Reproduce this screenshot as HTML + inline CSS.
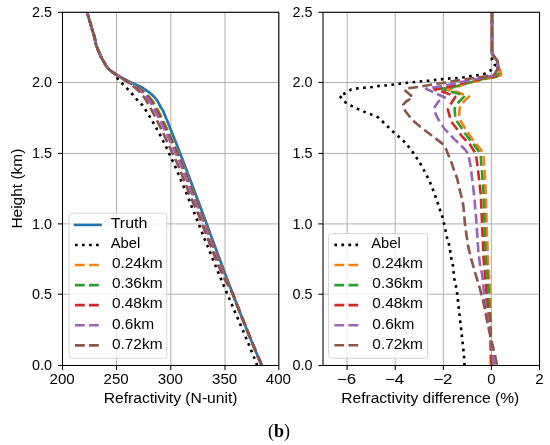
<!DOCTYPE html><html><head><meta charset="utf-8"><style>html,body{margin:0;padding:0;background:#fff;}svg{display:block;will-change:transform;}</style></head><body>
<svg width="550" height="445" viewBox="0 0 550 445" font-family='"Liberation Sans", sans-serif'>
<rect width="550" height="445" fill="#fff"/>
<defs><clipPath id="cl"><rect x="62.5" y="12.3" width="216.3" height="353.2"/></clipPath>
<clipPath id="cr"><rect x="323.0" y="12.3" width="216.5" height="353.2"/></clipPath></defs>
<line x1="62.5" y1="12.3" x2="62.5" y2="365.5" stroke="#b0b0b0" stroke-width="1.00"/>
<line x1="116.5" y1="12.3" x2="116.5" y2="365.5" stroke="#b0b0b0" stroke-width="1.00"/>
<line x1="170.8" y1="12.3" x2="170.8" y2="365.5" stroke="#b0b0b0" stroke-width="1.00"/>
<line x1="225.0" y1="12.3" x2="225.0" y2="365.5" stroke="#b0b0b0" stroke-width="1.00"/>
<line x1="278.8" y1="12.3" x2="278.8" y2="365.5" stroke="#b0b0b0" stroke-width="1.00"/>
<line x1="62.5" y1="365.5" x2="278.8" y2="365.5" stroke="#b0b0b0" stroke-width="1.00"/>
<line x1="62.5" y1="294.2" x2="278.8" y2="294.2" stroke="#b0b0b0" stroke-width="1.00"/>
<line x1="62.5" y1="223.9" x2="278.8" y2="223.9" stroke="#b0b0b0" stroke-width="1.00"/>
<line x1="62.5" y1="153.4" x2="278.8" y2="153.4" stroke="#b0b0b0" stroke-width="1.00"/>
<line x1="62.5" y1="82.5" x2="278.8" y2="82.5" stroke="#b0b0b0" stroke-width="1.00"/>
<line x1="62.5" y1="12.3" x2="278.8" y2="12.3" stroke="#b0b0b0" stroke-width="1.00"/>
<line x1="347.1" y1="12.3" x2="347.1" y2="365.5" stroke="#b0b0b0" stroke-width="1.00"/>
<line x1="395.2" y1="12.3" x2="395.2" y2="365.5" stroke="#b0b0b0" stroke-width="1.00"/>
<line x1="443.4" y1="12.3" x2="443.4" y2="365.5" stroke="#b0b0b0" stroke-width="1.00"/>
<line x1="491.4" y1="12.3" x2="491.4" y2="365.5" stroke="#b0b0b0" stroke-width="1.00"/>
<line x1="539.5" y1="12.3" x2="539.5" y2="365.5" stroke="#b0b0b0" stroke-width="1.00"/>
<line x1="323.0" y1="365.5" x2="539.5" y2="365.5" stroke="#b0b0b0" stroke-width="1.00"/>
<line x1="323.0" y1="294.2" x2="539.5" y2="294.2" stroke="#b0b0b0" stroke-width="1.00"/>
<line x1="323.0" y1="223.9" x2="539.5" y2="223.9" stroke="#b0b0b0" stroke-width="1.00"/>
<line x1="323.0" y1="153.4" x2="539.5" y2="153.4" stroke="#b0b0b0" stroke-width="1.00"/>
<line x1="323.0" y1="82.5" x2="539.5" y2="82.5" stroke="#b0b0b0" stroke-width="1.00"/>
<line x1="323.0" y1="12.3" x2="539.5" y2="12.3" stroke="#b0b0b0" stroke-width="1.00"/>
<polyline points="261.8,365.5 259.9,361.0 257.7,356.0 255.6,351.0 253.6,346.0 251.5,341.0 249.4,336.0 247.4,331.0 245.4,326.0 243.4,321.0 241.4,316.0 239.4,311.0 237.5,306.0 235.6,301.0 233.6,296.0 231.7,291.0 229.8,286.0 227.9,281.0 226.0,276.0 224.1,271.0 222.3,266.0 220.4,261.0 218.5,256.0 216.7,251.0 214.8,246.0 213.0,241.0 211.1,236.0 209.3,231.0 207.5,226.0 205.6,221.0 203.8,216.0 201.9,211.0 200.1,206.0 198.2,201.0 196.3,196.0 194.5,191.0 192.6,186.0 190.7,181.0 188.8,176.0 186.9,171.0 185.0,166.0 183.1,161.0 181.2,156.0 179.2,151.0 177.3,146.0 175.3,141.0 173.3,136.0 171.3,131.0 169.3,126.0 167.3,121.0 165.2,116.0 163.2,111.0 160.9,107.4 159.1,103.9 157.0,100.4 154.6,97.3 152.0,94.6 149.0,92.2 145.5,89.8 142.0,87.3 135.6,84.4 128.9,81.4 124.8,79.3 121.3,77.5 117.8,75.6 116.5,74.8 113.9,73.1 110.4,70.6 107.0,67.4 104.5,63.0 101.4,57.6 98.7,51.5 96.0,44.7 94.5,37.0 91.8,28.2 89.4,20.1 86.7,11.0" fill="none" stroke="#1f77b4" stroke-width="2.65" stroke-linejoin="round" stroke-linecap="butt" clip-path="url(#cl)"/>
<polyline points="257.2,365.5 257.0,365.0 255.1,360.0 253.1,355.0 251.0,350.0 249.0,345.0 246.9,340.0 244.8,335.0 242.7,330.0 240.6,325.0 238.4,320.0 236.3,315.0 234.1,310.0 232.0,305.0 229.9,300.0 227.7,295.0 225.6,290.0 223.5,285.0 221.4,280.0 219.3,275.0 217.2,270.0 215.2,265.0 213.1,260.0 211.1,255.0 209.1,250.0 207.1,245.0 205.0,240.0 203.1,235.0 201.1,230.0 199.1,225.0 197.1,220.0 195.1,215.0 193.1,210.0 191.1,205.0 189.1,200.0 187.1,195.0 185.1,190.0 183.0,185.0 180.9,180.0 178.8,175.0 176.7,170.0 174.5,165.0 172.2,160.0 169.9,155.0 167.6,150.0 165.2,145.0 162.6,140.0 160.1,135.0 157.4,130.0 154.6,125.0 151.7,120.0 148.7,115.0 145.6,110.0 142.3,105.0 136.8,99.5 132.2,94.0 127.5,88.9 122.5,83.8 117.6,78.6 116.0,75.8 114.6,73.8 113.9,73.1 110.4,70.6 107.0,67.4 104.5,63.0 101.4,57.6 98.7,51.5 96.0,44.7 94.5,37.0 91.8,28.2 89.4,20.1 86.7,11.0" fill="none" stroke="#000000" stroke-width="2.65" stroke-linejoin="round" stroke-linecap="butt" stroke-dasharray="2.665,4.444" clip-path="url(#cl)"/>
<path d="M86.70,11.00 L86.83,11.42 L86.98,11.96 L87.11,12.38 L87.27,12.92 L87.41,13.39 L87.55,13.87 L87.69,14.34 L87.84,14.83 L87.98,15.31 L88.12,15.79 L88.26,16.27 L88.38,16.65 M89.63,20.87 L89.77,21.35 L89.91,21.83 L90.05,22.31 L90.20,22.79 L90.34,23.27 L90.48,23.75 L90.62,24.23 L90.76,24.71 L90.91,25.19 L91.05,25.66 L91.19,26.14 L91.33,26.62 L91.48,27.10 L91.62,27.58 L91.76,28.06 L91.91,28.54 L92.05,29.02 L92.20,29.50 L92.35,29.98 L92.43,30.26 M93.72,34.47 L93.87,34.94 L94.01,35.42 L94.14,35.91 L94.27,36.39 L94.40,36.87 L94.52,37.36 L94.63,37.84 L94.74,38.33 L94.85,38.81 L94.95,39.30 L95.04,39.79 L95.14,40.28 L95.23,40.77 L95.33,41.26 L95.42,41.75 L95.52,42.24 L95.62,42.73 L95.73,43.22 L95.85,43.70 L95.93,44.00 M97.40,48.23 L97.59,48.70 L97.77,49.16 L97.96,49.63 L98.14,50.09 L98.33,50.55 L98.52,51.01 L98.72,51.48 L98.91,51.94 L99.11,52.40 L99.31,52.86 L99.50,53.31 L99.71,53.77 L99.91,54.23 L100.11,54.69 L100.31,55.15 L100.52,55.60 L100.73,56.06 L100.94,56.51 L101.16,56.96 L101.29,57.23 M103.40,61.09 L103.65,61.52 L103.90,61.95 L104.15,62.39 L104.40,62.82 L104.65,63.26 L104.90,63.70 L105.14,64.13 L105.39,64.56 L105.63,65.00 L105.88,65.43 L106.14,65.86 L106.41,66.27 L106.70,66.68 L106.99,67.08 L107.30,67.47 L107.61,67.84 L107.94,68.22 L108.28,68.58 L108.63,68.93 L108.84,69.13 M112.24,71.91 L112.65,72.20 L113.06,72.49 L113.47,72.77 L113.88,73.06 L114.30,73.34 L114.71,73.62 L115.12,73.89 L115.54,74.17 L115.96,74.44 L116.38,74.71 L116.80,74.97 L117.22,75.24 L117.64,75.50 L118.07,75.75 L118.49,76.01 L118.92,76.26 L119.35,76.52 L119.78,76.77 L120.22,77.02 L120.47,77.17 M124.29,79.35 L124.72,79.60 L125.16,79.85 L125.59,80.10 L126.02,80.35 L126.45,80.60 L126.88,80.84 L127.31,81.09 L127.73,81.34 L128.16,81.58 L128.59,81.83 L129.01,82.07 L129.43,82.31 L129.85,82.56 L130.27,82.80 L130.70,83.04 L131.12,83.28 L131.55,83.52 L131.97,83.77 L132.39,84.01 L132.72,84.20 M136.42,86.38 L136.84,86.63 L137.25,86.88 L137.66,87.14 L138.06,87.39 L138.46,87.65 L138.90,87.92 L139.35,88.22 L139.80,88.52 L140.24,88.82 L140.68,89.13 L141.11,89.45 L141.54,89.77 L141.97,90.10 L142.40,90.44 L142.81,90.77 L143.20,91.10 L143.56,91.42 L143.92,91.74 L144.27,92.05 L144.49,92.25 M147.72,95.26 L148.13,95.66 L148.53,96.07 L148.93,96.48 L149.31,96.90 L149.67,97.30 L150.05,97.73 L150.44,98.19 L150.82,98.66 L151.20,99.13 L151.57,99.60 L151.90,100.04 L152.25,100.53 L152.60,101.03 L152.95,101.53 L153.29,102.04 L153.61,102.54 L153.91,103.01 L154.21,103.50 L154.52,104.02 L154.64,104.22 M156.90,108.33 L157.11,108.74 L157.33,109.13 L157.55,109.53 L157.77,109.93 L157.99,110.32 L158.25,110.78 L158.52,111.26 L158.79,111.75 L159.06,112.27 L159.34,112.79 L159.61,113.32 L159.88,113.84 L160.14,114.37 L160.39,114.90 L160.64,115.44 L160.87,115.92 L161.08,116.38 L161.28,116.83 L161.49,117.29 L161.58,117.47 M163.43,121.35 L163.65,121.80 L163.87,122.25 L164.09,122.70 L164.30,123.15 L164.52,123.60 L164.73,124.05 L164.95,124.51 L165.16,124.96 L165.38,125.41 L165.59,125.87 L165.81,126.33 L166.03,126.79 L166.24,127.25 L166.46,127.71 L166.67,128.16 L166.89,128.62 L167.10,129.08 L167.31,129.54 L167.53,130.00 L167.61,130.18 M169.47,134.17 L169.68,134.63 L169.89,135.08 L170.09,135.54 L170.30,135.99 L170.51,136.45 L170.72,136.90 L170.92,137.36 L171.13,137.81 L171.34,138.27 L171.54,138.72 L171.75,139.18 L171.96,139.63 L172.16,140.09 L172.37,140.55 L172.57,141.00 L172.78,141.46 L172.98,141.92 L173.19,142.37 L173.39,142.83 L173.48,143.01 M175.23,146.94 L175.44,147.40 L175.64,147.85 L175.84,148.31 L176.04,148.77 L176.25,149.22 L176.45,149.68 L176.65,150.14 L176.86,150.59 L177.06,151.05 L177.26,151.51 L177.47,151.97 L177.67,152.42 L177.87,152.88 L178.07,153.34 L178.27,153.80 L178.47,154.25 L178.68,154.71 L178.88,155.17 L179.08,155.63 L179.16,155.81 M180.88,159.86 L181.07,160.32 L181.26,160.79 L181.44,161.25 L181.63,161.71 L181.81,162.18 L182.00,162.64 L182.18,163.11 L182.37,163.57 L182.55,164.04 L182.73,164.50 L182.91,164.97 L183.09,165.44 L183.27,165.90 L183.45,166.37 L183.63,166.83 L183.81,167.30 L183.99,167.77 L184.17,168.23 L184.35,168.70 L184.43,168.89 M185.97,172.90 L186.15,173.36 L186.33,173.83 L186.51,174.30 L186.69,174.77 L186.87,175.23 L187.05,175.70 L187.23,176.16 L187.41,176.63 L187.59,177.10 L187.77,177.57 L187.95,178.03 L188.13,178.50 L188.30,178.97 L188.48,179.43 L188.66,179.90 L188.84,180.37 L189.01,180.84 L189.19,181.30 L189.37,181.77 L189.44,181.96 M191.01,186.10 L191.19,186.58 L191.37,187.05 L191.55,187.52 L191.73,188.00 L191.91,188.47 L192.09,188.95 L192.26,189.41 L192.44,189.88 L192.62,190.35 L192.79,190.82 L192.97,191.29 L193.15,191.75 L193.32,192.22 L193.50,192.69 L193.68,193.16 L193.86,193.62 L194.04,194.09 L194.22,194.56 L194.40,195.02 L194.47,195.21 M196.03,199.22 L196.21,199.68 L196.39,200.15 L196.57,200.61 L196.75,201.08 L196.94,201.54 L197.12,202.01 L197.30,202.47 L197.48,202.93 L197.65,203.39 L197.83,203.85 L198.01,204.31 L198.19,204.77 L198.37,205.23 L198.55,205.68 L198.73,206.14 L198.90,206.60 L199.08,207.06 L199.27,207.53 L199.45,208.00 L199.52,208.18 M201.11,212.28 L201.29,212.75 L201.47,213.22 L201.65,213.68 L201.83,214.15 L202.00,214.62 L202.18,215.09 L202.36,215.55 L202.53,216.02 L202.71,216.49 L202.88,216.96 L203.06,217.42 L203.24,217.89 L203.41,218.36 L203.59,218.83 L203.76,219.30 L203.94,219.77 L204.11,220.23 L204.29,220.70 L204.46,221.17 L204.53,221.36 M206.04,225.39 L206.22,225.85 L206.39,226.32 L206.57,226.79 L206.74,227.26 L206.92,227.72 L207.09,228.19 L207.27,228.66 L207.44,229.13 L207.62,229.60 L207.79,230.07 L207.97,230.53 L208.14,231.00 L208.32,231.47 L208.50,231.94 L208.67,232.41 L208.85,232.88 L209.02,233.34 L209.20,233.81 L209.37,234.28 L209.44,234.47 M210.98,238.59 L211.16,239.06 L211.33,239.52 L211.51,239.99 L211.69,240.46 L211.86,240.93 L212.04,241.40 L212.21,241.87 L212.39,242.33 L212.56,242.80 L212.74,243.27 L212.91,243.74 L213.09,244.21 L213.26,244.68 L213.44,245.14 L213.62,245.61 L213.79,246.08 L213.97,246.55 L214.14,247.02 L214.32,247.49 L214.39,247.67 M215.90,251.70 L216.08,252.16 L216.26,252.63 L216.43,253.10 L216.61,253.57 L216.79,254.03 L216.97,254.50 L217.14,254.97 L217.32,255.43 L217.50,255.90 L217.68,256.37 L217.86,256.84 L218.03,257.30 L218.21,257.77 L218.39,258.24 L218.57,258.71 L218.75,259.17 L218.92,259.64 L219.10,260.11 L219.28,260.58 L219.35,260.76 M220.92,264.87 L221.10,265.34 L221.28,265.81 L221.46,266.27 L221.64,266.74 L221.82,267.20 L222.00,267.67 L222.18,268.13 L222.37,268.60 L222.55,269.06 L222.74,269.53 L222.92,269.99 L223.11,270.46 L223.29,270.92 L223.48,271.39 L223.66,271.85 L223.84,272.31 L224.03,272.78 L224.22,273.24 L224.40,273.71 L224.47,273.89 M226.07,277.88 L226.26,278.34 L226.44,278.80 L226.63,279.25 L226.82,279.71 L227.01,280.16 L227.20,280.62 L227.39,281.07 L227.58,281.52 L227.77,281.97 L227.96,282.43 L228.16,282.88 L228.35,283.34 L228.55,283.80 L228.74,284.26 L228.94,284.72 L229.14,285.17 L229.33,285.63 L229.52,286.08 L229.72,286.53 L229.79,286.71 M231.48,290.71 L231.67,291.18 L231.86,291.64 L232.05,292.10 L232.23,292.56 L232.42,293.03 L232.61,293.49 L232.80,293.95 L232.98,294.41 L233.17,294.88 L233.35,295.34 L233.54,295.80 L233.72,296.26 L233.90,296.73 L234.08,297.19 L234.27,297.66 L234.45,298.12 L234.63,298.59 L234.81,299.05 L234.99,299.52 L235.06,299.71 M236.61,303.71 L236.79,304.18 L236.97,304.65 L237.15,305.11 L237.33,305.58 L237.51,306.05 L237.70,306.51 L237.88,306.98 L238.06,307.44 L238.24,307.91 L238.42,308.37 L238.60,308.84 L238.79,309.31 L238.97,309.77 L239.15,310.24 L239.33,310.70 L239.52,311.17 L239.70,311.63 L239.88,312.10 L240.06,312.57 L240.14,312.75 M241.75,316.85 L241.93,317.31 L242.12,317.78 L242.30,318.24 L242.49,318.70 L242.67,319.17 L242.85,319.63 L243.04,320.10 L243.22,320.56 L243.41,321.03 L243.59,321.49 L243.78,321.96 L243.96,322.42 L244.15,322.89 L244.33,323.35 L244.52,323.81 L244.70,324.28 L244.89,324.74 L245.08,325.21 L245.26,325.67 L245.34,325.86 M246.94,329.85 L247.13,330.31 L247.32,330.77 L247.50,331.24 L247.69,331.70 L247.88,332.16 L248.07,332.63 L248.25,333.09 L248.44,333.55 L248.63,334.02 L248.82,334.48 L249.01,334.94 L249.20,335.41 L249.38,335.87 L249.57,336.33 L249.76,336.80 L249.95,337.26 L250.14,337.72 L250.33,338.18 L250.52,338.65 L250.60,338.83 M252.27,342.90 L252.46,343.36 L252.65,343.82 L252.84,344.29 L253.03,344.75 L253.23,345.21 L253.42,345.67 L253.61,346.13 L253.80,346.60 L253.99,347.06 L254.19,347.52 L254.38,347.98 L254.57,348.44 L254.76,348.90 L254.96,349.36 L255.15,349.83 L255.34,350.29 L255.53,350.75 L255.73,351.21 L255.92,351.67 L256.00,351.86 M257.67,355.82 L257.87,356.28 L258.06,356.74 L258.26,357.20 L258.45,357.66 L258.65,358.12 L258.84,358.58 L259.04,359.04 L259.24,359.50 L259.43,359.96 L259.63,360.42 L259.82,360.88 L260.02,361.34 L260.22,361.80 L260.42,362.26 L260.61,362.72 L260.81,363.17 L261.00,363.62 L261.21,364.11 L261.40,364.54 L261.48,364.72" fill="none" stroke="#ff7f0e" stroke-width="2.65" stroke-linejoin="round" stroke-linecap="butt" clip-path="url(#cl)"/>
<path d="M86.70,11.00 L86.83,11.43 L86.98,11.96 L87.11,12.39 L87.27,12.92 L87.41,13.39 L87.55,13.87 L87.69,14.34 L87.84,14.83 L87.98,15.31 L88.12,15.79 L88.26,16.27 L88.29,16.36 M89.54,20.58 L89.68,21.06 L89.83,21.54 L89.97,22.02 L90.11,22.50 L90.25,22.98 L90.40,23.46 L90.54,23.94 L90.68,24.42 L90.82,24.90 L90.96,25.38 L91.11,25.86 L91.25,26.34 L91.39,26.82 L91.53,27.29 L91.68,27.77 L91.82,28.25 L91.97,28.73 L92.11,29.21 L92.26,29.69 L92.35,29.98 M93.63,34.18 L93.78,34.66 L93.92,35.14 L94.06,35.62 L94.20,36.10 L94.32,36.58 L94.45,37.07 L94.57,37.55 L94.68,38.04 L94.79,38.52 L94.89,39.01 L94.99,39.50 L95.08,39.99 L95.18,40.47 L95.27,40.97 L95.37,41.45 L95.46,41.95 L95.56,42.44 L95.67,42.93 L95.78,43.42 L95.85,43.71 M97.29,47.95 L97.48,48.42 L97.66,48.89 L97.85,49.35 L98.03,49.81 L98.22,50.27 L98.41,50.74 L98.60,51.20 L98.80,51.66 L98.99,52.12 L99.19,52.58 L99.38,53.04 L99.58,53.50 L99.79,53.95 L99.99,54.41 L100.19,54.87 L100.40,55.33 L100.60,55.79 L100.81,56.24 L101.02,56.69 L101.16,56.96 M103.25,60.83 L103.50,61.26 L103.75,61.70 L104.00,62.13 L104.25,62.56 L104.50,63.00 L104.75,63.44 L104.99,63.87 L105.24,64.30 L105.49,64.74 L105.73,65.17 L105.99,65.60 L106.25,66.02 L106.53,66.44 L106.81,66.84 L107.11,67.24 L107.42,67.62 L107.74,67.99 L108.07,68.36 L108.42,68.72 L108.63,68.93 M112.00,71.74 L112.40,72.03 L112.81,72.32 L113.23,72.60 L113.64,72.89 L114.05,73.17 L114.47,73.45 L114.88,73.73 L115.29,74.01 L115.71,74.28 L116.12,74.55 L116.55,74.82 L116.97,75.08 L117.39,75.34 L117.81,75.60 L118.24,75.86 L118.66,76.12 L119.09,76.37 L119.52,76.63 L119.95,76.88 L120.21,77.03 M124.01,79.24 L124.44,79.49 L124.88,79.74 L125.31,79.99 L125.74,80.24 L126.17,80.49 L126.60,80.75 L127.02,81.00 L127.45,81.25 L127.87,81.50 L128.30,81.75 L128.72,82.00 L129.14,82.25 L129.56,82.49 L129.98,82.74 L130.40,82.99 L130.82,83.24 L131.24,83.49 L131.66,83.73 L132.08,83.98 L132.42,84.18 M136.09,86.41 L136.50,86.67 L136.91,86.93 L137.32,87.19 L137.72,87.46 L138.12,87.72 L138.52,87.99 L138.96,88.28 L139.40,88.58 L139.84,88.89 L140.27,89.20 L140.70,89.52 L141.13,89.84 L141.55,90.17 L141.96,90.50 L142.38,90.84 L142.78,91.19 L143.15,91.51 L143.50,91.84 L143.86,92.16 L144.07,92.36 M147.23,95.39 L147.61,95.78 L148.00,96.18 L148.38,96.59 L148.77,97.01 L149.13,97.42 L149.48,97.83 L149.85,98.28 L150.23,98.74 L150.60,99.20 L150.96,99.67 L151.30,100.13 L151.62,100.57 L151.97,101.07 L152.31,101.56 L152.64,102.06 L152.97,102.56 L153.27,103.04 L153.56,103.51 L153.86,104.01 L153.98,104.21 M156.26,108.36 L156.48,108.77 L156.70,109.17 L156.92,109.57 L157.14,109.98 L157.37,110.38 L157.60,110.79 L157.86,111.26 L158.12,111.74 L158.39,112.24 L158.67,112.75 L158.93,113.26 L159.20,113.78 L159.46,114.30 L159.72,114.82 L159.97,115.34 L160.22,115.87 L160.42,116.32 L160.63,116.78 L160.84,117.23 L160.93,117.41 M162.85,121.37 L163.08,121.82 L163.30,122.27 L163.52,122.72 L163.74,123.17 L163.96,123.62 L164.18,124.07 L164.40,124.52 L164.62,124.97 L164.83,125.42 L165.05,125.88 L165.27,126.33 L165.49,126.79 L165.71,127.24 L165.93,127.70 L166.15,128.16 L166.36,128.61 L166.58,129.07 L166.80,129.53 L167.02,129.98 L167.10,130.16 M168.94,134.06 L169.16,134.51 L169.37,134.96 L169.58,135.41 L169.79,135.87 L170.00,136.32 L170.21,136.78 L170.42,137.23 L170.63,137.69 L170.84,138.14 L171.05,138.59 L171.26,139.05 L171.47,139.50 L171.68,139.96 L171.89,140.41 L172.10,140.87 L172.31,141.32 L172.51,141.78 L172.72,142.23 L172.93,142.69 L173.01,142.87 M174.84,146.88 L175.04,147.34 L175.25,147.79 L175.45,148.25 L175.66,148.70 L175.87,149.16 L176.07,149.61 L176.28,150.07 L176.48,150.53 L176.69,150.98 L176.90,151.44 L177.10,151.90 L177.31,152.35 L177.51,152.81 L177.72,153.26 L177.92,153.72 L178.12,154.18 L178.33,154.63 L178.53,155.09 L178.74,155.55 L178.82,155.73 M180.56,159.77 L180.75,160.23 L180.95,160.69 L181.13,161.15 L181.32,161.62 L181.51,162.08 L181.69,162.55 L181.88,163.01 L182.06,163.48 L182.24,163.94 L182.43,164.41 L182.61,164.87 L182.79,165.34 L182.97,165.80 L183.15,166.27 L183.33,166.74 L183.51,167.20 L183.69,167.67 L183.87,168.14 L184.05,168.60 L184.13,168.79 M185.68,172.80 L185.86,173.26 L186.04,173.73 L186.22,174.20 L186.40,174.67 L186.58,175.13 L186.76,175.60 L186.94,176.06 L187.12,176.53 L187.29,177.00 L187.47,177.47 L187.65,177.93 L187.83,178.40 L188.01,178.86 L188.19,179.33 L188.37,179.80 L188.55,180.27 L188.72,180.73 L188.90,181.20 L189.08,181.67 L189.15,181.85 M190.72,185.99 L190.90,186.47 L191.08,186.94 L191.26,187.42 L191.44,187.89 L191.62,188.36 L191.80,188.84 L191.97,189.31 L192.15,189.78 L192.33,190.24 L192.50,190.71 L192.68,191.18 L192.86,191.65 L193.03,192.11 L193.21,192.58 L193.39,193.05 L193.57,193.52 L193.75,193.98 L193.93,194.45 L194.11,194.91 L194.18,195.10 M195.79,199.20 L195.97,199.66 L196.15,200.13 L196.33,200.59 L196.52,201.06 L196.70,201.52 L196.88,201.99 L197.06,202.45 L197.24,202.91 L197.42,203.37 L197.60,203.83 L197.78,204.29 L197.96,204.75 L198.14,205.20 L198.32,205.66 L198.50,206.12 L198.68,206.58 L198.86,207.04 L199.05,207.51 L199.23,207.97 L199.30,208.16 M200.87,212.16 L201.05,212.63 L201.23,213.09 L201.41,213.56 L201.59,214.03 L201.76,214.49 L201.94,214.96 L202.12,215.43 L202.30,215.90 L202.47,216.36 L202.65,216.83 L202.82,217.30 L203.00,217.77 L203.17,218.24 L203.35,218.71 L203.53,219.17 L203.70,219.64 L203.88,220.11 L204.05,220.58 L204.23,221.04 L204.30,221.23 M205.85,225.35 L206.02,225.82 L206.20,226.29 L206.37,226.76 L206.55,227.22 L206.72,227.69 L206.90,228.16 L207.08,228.63 L207.25,229.10 L207.43,229.57 L207.60,230.03 L207.78,230.50 L207.95,230.97 L208.13,231.44 L208.30,231.90 L208.48,232.37 L208.66,232.84 L208.83,233.31 L209.01,233.78 L209.18,234.25 L209.25,234.43 M210.76,238.46 L210.94,238.93 L211.11,239.39 L211.29,239.86 L211.47,240.33 L211.64,240.80 L211.82,241.27 L211.99,241.74 L212.17,242.20 L212.34,242.67 L212.52,243.14 L212.70,243.61 L212.87,244.08 L213.05,244.54 L213.22,245.01 L213.40,245.48 L213.57,245.95 L213.75,246.42 L213.93,246.88 L214.10,247.35 L214.17,247.54 M215.73,251.66 L215.90,252.12 L216.08,252.59 L216.26,253.06 L216.44,253.53 L216.61,253.99 L216.79,254.46 L216.97,254.93 L217.15,255.39 L217.33,255.86 L217.51,256.33 L217.68,256.79 L217.86,257.26 L218.04,257.73 L218.22,258.20 L218.40,258.66 L218.58,259.13 L218.76,259.60 L218.93,260.06 L219.11,260.53 L219.18,260.72 M220.76,264.83 L220.94,265.29 L221.12,265.76 L221.30,266.23 L221.48,266.69 L221.66,267.16 L221.84,267.62 L222.03,268.09 L222.21,268.55 L222.40,269.02 L222.58,269.48 L222.77,269.94 L222.95,270.41 L223.14,270.87 L223.33,271.33 L223.51,271.80 L223.70,272.26 L223.89,272.73 L224.07,273.19 L224.26,273.65 L224.33,273.84 M225.94,277.82 L226.13,278.28 L226.32,278.74 L226.51,279.19 L226.70,279.65 L226.89,280.10 L227.08,280.55 L227.27,281.01 L227.47,281.46 L227.66,281.91 L227.86,282.36 L228.06,282.81 L228.25,283.27 L228.45,283.73 L228.65,284.19 L228.85,284.64 L229.05,285.10 L229.24,285.55 L229.44,286.01 L229.64,286.46 L229.72,286.64 M231.43,290.63 L231.62,291.09 L231.81,291.55 L232.00,292.01 L232.19,292.48 L232.38,292.94 L232.57,293.40 L232.75,293.86 L232.94,294.32 L233.13,294.78 L233.31,295.25 L233.50,295.71 L233.68,296.17 L233.87,296.63 L234.05,297.10 L234.23,297.56 L234.41,298.03 L234.59,298.49 L234.77,298.96 L234.95,299.43 L235.02,299.61 M236.61,303.72 L236.79,304.18 L236.97,304.65 L237.15,305.11 L237.33,305.58 L237.52,306.05 L237.70,306.51 L237.88,306.98 L238.06,307.44 L238.24,307.91 L238.42,308.38 L238.61,308.84 L238.79,309.31 L238.97,309.77 L239.15,310.24 L239.33,310.70 L239.52,311.17 L239.70,311.64 L239.88,312.10 L240.06,312.57 L240.14,312.75 M241.71,316.75 L241.90,317.22 L242.08,317.68 L242.27,318.15 L242.45,318.61 L242.63,319.08 L242.82,319.54 L243.00,320.01 L243.19,320.47 L243.37,320.94 L243.56,321.40 L243.74,321.87 L243.93,322.33 L244.11,322.79 L244.30,323.26 L244.48,323.72 L244.67,324.19 L244.85,324.65 L245.04,325.12 L245.23,325.58 L245.30,325.77 M246.94,329.85 L247.13,330.31 L247.32,330.78 L247.50,331.24 L247.69,331.70 L247.88,332.16 L248.07,332.63 L248.25,333.09 L248.44,333.56 L248.63,334.02 L248.82,334.48 L249.01,334.94 L249.20,335.41 L249.38,335.87 L249.57,336.33 L249.76,336.80 L249.95,337.26 L250.14,337.72 L250.33,338.19 L250.52,338.65 L250.60,338.83 M252.27,342.90 L252.46,343.36 L252.65,343.83 L252.84,344.29 L253.03,344.75 L253.23,345.21 L253.42,345.67 L253.61,346.14 L253.80,346.60 L253.99,347.06 L254.19,347.52 L254.38,347.98 L254.57,348.44 L254.76,348.91 L254.96,349.37 L255.15,349.83 L255.34,350.29 L255.54,350.75 L255.73,351.21 L255.92,351.67 L256.00,351.86 M257.67,355.82 L257.87,356.28 L258.06,356.74 L258.26,357.20 L258.45,357.66 L258.65,358.12 L258.84,358.58 L259.04,359.04 L259.24,359.50 L259.43,359.96 L259.63,360.42 L259.83,360.88 L260.02,361.34 L260.22,361.80 L260.42,362.26 L260.61,362.72 L260.81,363.18 L261.00,363.62 L261.21,364.11 L261.40,364.54 L261.48,364.72" fill="none" stroke="#2ca02c" stroke-width="2.65" stroke-linejoin="round" stroke-linecap="butt" clip-path="url(#cl)"/>
<path d="M86.70,11.00 L86.83,11.44 L86.98,11.96 L87.11,12.40 L87.27,12.92 L87.41,13.39 L87.55,13.87 L87.69,14.35 L87.84,14.83 L87.98,15.31 L88.12,15.79 L88.21,16.08 M89.46,20.29 L89.60,20.77 L89.74,21.25 L89.88,21.73 L90.03,22.21 L90.17,22.69 L90.31,23.17 L90.45,23.65 L90.59,24.13 L90.74,24.61 L90.88,25.09 L91.02,25.57 L91.16,26.05 L91.31,26.53 L91.45,27.01 L91.59,27.49 L91.74,27.97 L91.88,28.45 L92.03,28.92 L92.17,29.40 L92.26,29.69 M93.55,33.90 L93.69,34.37 L93.84,34.85 L93.98,35.33 L94.12,35.81 L94.25,36.29 L94.37,36.78 L94.50,37.26 L94.61,37.75 L94.72,38.23 L94.83,38.72 L94.93,39.21 L95.03,39.70 L95.12,40.19 L95.22,40.68 L95.31,41.16 L95.41,41.66 L95.50,42.15 L95.60,42.64 L95.71,43.13 L95.78,43.42 M97.18,47.68 L97.37,48.14 L97.55,48.61 L97.74,49.07 L97.92,49.54 L98.11,50.00 L98.30,50.46 L98.49,50.92 L98.68,51.39 L98.87,51.85 L99.07,52.31 L99.27,52.77 L99.47,53.23 L99.67,53.68 L99.87,54.14 L100.07,54.60 L100.27,55.06 L100.48,55.51 L100.68,55.97 L100.90,56.42 L101.02,56.69 M103.10,60.57 L103.35,61.00 L103.60,61.43 L103.85,61.87 L104.10,62.31 L104.35,62.74 L104.60,63.17 L104.85,63.61 L105.09,64.04 L105.34,64.48 L105.59,64.91 L105.83,65.34 L106.09,65.77 L106.36,66.19 L106.64,66.60 L106.93,67.00 L107.23,67.39 L107.55,67.77 L107.87,68.14 L108.21,68.51 L108.42,68.72 M111.76,71.56 L112.16,71.85 L112.57,72.14 L112.98,72.43 L113.39,72.72 L113.80,73.00 L114.22,73.28 L114.63,73.56 L115.04,73.84 L115.46,74.12 L115.87,74.39 L116.29,74.66 L116.72,74.93 L117.14,75.19 L117.56,75.45 L117.98,75.72 L118.41,75.98 L118.83,76.23 L119.26,76.49 L119.69,76.75 L119.94,76.90 M123.73,79.14 L124.16,79.40 L124.59,79.65 L125.02,79.91 L125.44,80.16 L125.87,80.42 L126.30,80.68 L126.72,80.94 L127.14,81.19 L127.57,81.45 L127.99,81.71 L128.41,81.97 L128.83,82.22 L129.24,82.48 L129.66,82.74 L130.08,82.99 L130.49,83.25 L130.91,83.51 L131.33,83.77 L131.74,84.03 L132.07,84.24 M135.71,86.56 L136.11,86.83 L136.52,87.10 L136.92,87.38 L137.32,87.65 L137.71,87.93 L138.11,88.21 L138.51,88.50 L138.94,88.80 L139.36,89.12 L139.79,89.43 L140.20,89.75 L140.61,90.08 L141.02,90.41 L141.43,90.75 L141.83,91.09 L142.22,91.44 L142.61,91.79 L142.96,92.12 L143.31,92.45 L143.51,92.66 M146.57,95.76 L146.92,96.13 L147.29,96.54 L147.66,96.95 L148.02,97.36 L148.38,97.78 L148.71,98.19 L149.05,98.61 L149.41,99.06 L149.76,99.51 L150.10,99.97 L150.44,100.43 L150.75,100.88 L151.07,101.34 L151.39,101.82 L151.71,102.31 L152.03,102.80 L152.33,103.28 L152.61,103.75 L152.89,104.22 L153.01,104.42 M155.29,108.55 L155.51,108.98 L155.73,109.39 L155.96,109.80 L156.18,110.21 L156.41,110.62 L156.63,111.03 L156.88,111.47 L157.13,111.93 L157.39,112.41 L157.66,112.90 L157.92,113.40 L158.18,113.90 L158.44,114.41 L158.69,114.91 L158.94,115.42 L159.19,115.93 L159.42,116.42 L159.63,116.87 L159.85,117.32 L159.93,117.50 M161.89,121.44 L162.12,121.89 L162.35,122.34 L162.57,122.78 L162.80,123.23 L163.02,123.68 L163.25,124.13 L163.47,124.57 L163.69,125.02 L163.92,125.47 L164.14,125.92 L164.36,126.38 L164.59,126.83 L164.81,127.28 L165.03,127.74 L165.25,128.19 L165.48,128.64 L165.70,129.10 L165.92,129.55 L166.14,130.01 L166.23,130.19 M168.16,134.15 L168.37,134.60 L168.59,135.06 L168.81,135.51 L169.02,135.96 L169.24,136.41 L169.45,136.86 L169.67,137.31 L169.88,137.77 L170.09,138.22 L170.31,138.67 L170.52,139.13 L170.73,139.58 L170.95,140.03 L171.16,140.49 L171.37,140.94 L171.58,141.39 L171.80,141.85 L172.01,142.30 L172.22,142.75 L172.31,142.93 M174.16,146.93 L174.37,147.38 L174.58,147.84 L174.79,148.29 L175.00,148.75 L175.21,149.20 L175.42,149.65 L175.63,150.11 L175.84,150.56 L176.05,151.02 L176.26,151.47 L176.47,151.93 L176.68,152.38 L176.89,152.84 L177.10,153.29 L177.31,153.74 L177.52,154.20 L177.73,154.65 L177.93,155.11 L178.14,155.56 L178.22,155.75 M179.97,159.68 L180.16,160.14 L180.36,160.60 L180.55,161.06 L180.74,161.52 L180.93,161.99 L181.11,162.45 L181.30,162.91 L181.49,163.38 L181.67,163.84 L181.85,164.30 L182.04,164.77 L182.22,165.24 L182.40,165.70 L182.58,166.17 L182.76,166.63 L182.94,167.10 L183.13,167.57 L183.31,168.03 L183.49,168.50 L183.56,168.69 M185.15,172.79 L185.33,173.25 L185.51,173.72 L185.69,174.18 L185.88,174.65 L186.06,175.12 L186.24,175.58 L186.42,176.05 L186.60,176.52 L186.78,176.98 L186.96,177.45 L187.14,177.92 L187.32,178.38 L187.50,178.85 L187.67,179.32 L187.85,179.78 L188.03,180.25 L188.21,180.72 L188.39,181.18 L188.57,181.65 L188.64,181.84 M190.21,185.97 L190.39,186.44 L190.57,186.92 L190.75,187.39 L190.93,187.86 L191.11,188.34 L191.29,188.81 L191.47,189.28 L191.64,189.75 L191.82,190.22 L192.00,190.68 L192.17,191.15 L192.35,191.62 L192.53,192.09 L192.71,192.55 L192.89,193.02 L193.07,193.49 L193.24,193.95 L193.43,194.42 L193.61,194.88 L193.68,195.07 M195.30,199.16 L195.49,199.62 L195.67,200.09 L195.86,200.55 L196.04,201.02 L196.23,201.48 L196.41,201.94 L196.60,202.41 L196.78,202.87 L196.96,203.33 L197.14,203.79 L197.33,204.25 L197.51,204.70 L197.69,205.16 L197.87,205.62 L198.06,206.08 L198.24,206.54 L198.42,207.00 L198.61,207.46 L198.79,207.92 L198.86,208.11 M200.48,212.20 L200.67,212.67 L200.85,213.13 L201.03,213.60 L201.21,214.06 L201.39,214.53 L201.57,214.99 L201.75,215.46 L201.93,215.93 L202.10,216.40 L202.28,216.86 L202.46,217.33 L202.63,217.80 L202.81,218.27 L202.99,218.74 L203.16,219.20 L203.34,219.67 L203.52,220.14 L203.69,220.61 L203.87,221.08 L203.94,221.26 M205.45,225.29 L205.63,225.75 L205.81,226.22 L205.98,226.69 L206.16,227.16 L206.34,227.63 L206.51,228.09 L206.69,228.56 L206.87,229.03 L207.04,229.50 L207.22,229.96 L207.39,230.43 L207.57,230.90 L207.75,231.37 L207.92,231.84 L208.10,232.30 L208.28,232.77 L208.45,233.24 L208.63,233.71 L208.80,234.18 L208.88,234.36 M210.43,238.48 L210.60,238.95 L210.78,239.42 L210.95,239.88 L211.13,240.35 L211.31,240.82 L211.48,241.29 L211.66,241.75 L211.84,242.22 L212.01,242.69 L212.19,243.16 L212.37,243.63 L212.54,244.09 L212.72,244.56 L212.90,245.03 L213.07,245.50 L213.25,245.97 L213.42,246.43 L213.60,246.90 L213.78,247.37 L213.85,247.56 M215.41,251.67 L215.59,252.14 L215.76,252.60 L215.94,253.07 L216.12,253.54 L216.30,254.01 L216.48,254.47 L216.66,254.94 L216.84,255.40 L217.02,255.87 L217.20,256.34 L217.38,256.81 L217.56,257.27 L217.74,257.74 L217.92,258.20 L218.10,258.67 L218.28,259.14 L218.46,259.60 L218.63,260.07 L218.81,260.54 L218.89,260.72 M220.47,264.83 L220.65,265.29 L220.83,265.76 L221.01,266.23 L221.20,266.69 L221.38,267.16 L221.56,267.62 L221.75,268.08 L221.94,268.55 L222.12,269.01 L222.31,269.47 L222.50,269.94 L222.69,270.40 L222.88,270.86 L223.07,271.32 L223.26,271.79 L223.45,272.25 L223.64,272.71 L223.83,273.17 L224.01,273.64 L224.09,273.82 M225.72,277.80 L225.91,278.26 L226.11,278.71 L226.30,279.17 L226.49,279.62 L226.69,280.07 L226.89,280.52 L227.08,280.97 L227.28,281.42 L227.48,281.87 L227.69,282.32 L227.89,282.77 L228.09,283.23 L228.30,283.68 L228.50,284.14 L228.70,284.59 L228.91,285.05 L229.11,285.50 L229.31,285.95 L229.52,286.40 L229.60,286.58 M231.35,290.55 L231.55,291.01 L231.74,291.47 L231.94,291.93 L232.13,292.39 L232.32,292.85 L232.51,293.31 L232.70,293.78 L232.89,294.23 L233.08,294.70 L233.27,295.16 L233.46,295.62 L233.64,296.08 L233.83,296.54 L234.01,297.01 L234.19,297.47 L234.37,297.94 L234.55,298.40 L234.73,298.87 L234.91,299.33 L234.99,299.52 M236.57,303.63 L236.76,304.09 L236.94,304.56 L237.12,305.02 L237.30,305.49 L237.48,305.95 L237.66,306.42 L237.84,306.89 L238.02,307.35 L238.21,307.82 L238.39,308.28 L238.57,308.75 L238.75,309.22 L238.93,309.68 L239.12,310.15 L239.30,310.61 L239.48,311.08 L239.66,311.54 L239.85,312.01 L240.03,312.47 L240.10,312.66 M241.71,316.75 L241.90,317.22 L242.08,317.68 L242.27,318.15 L242.45,318.61 L242.63,319.08 L242.82,319.54 L243.00,320.01 L243.19,320.47 L243.37,320.94 L243.56,321.40 L243.74,321.87 L243.93,322.33 L244.11,322.80 L244.30,323.26 L244.48,323.72 L244.67,324.19 L244.85,324.65 L245.04,325.12 L245.23,325.58 L245.30,325.77 M246.94,329.85 L247.13,330.31 L247.32,330.78 L247.50,331.24 L247.69,331.70 L247.88,332.17 L248.07,332.63 L248.25,333.09 L248.44,333.56 L248.63,334.02 L248.82,334.48 L249.01,334.95 L249.20,335.41 L249.39,335.87 L249.57,336.34 L249.76,336.80 L249.95,337.26 L250.14,337.72 L250.33,338.19 L250.52,338.65 L250.60,338.83 M252.23,342.81 L252.42,343.27 L252.61,343.74 L252.81,344.20 L253.00,344.66 L253.19,345.12 L253.38,345.58 L253.57,346.04 L253.76,346.51 L253.96,346.97 L254.15,347.43 L254.34,347.89 L254.53,348.35 L254.73,348.81 L254.92,349.28 L255.11,349.74 L255.30,350.20 L255.50,350.66 L255.69,351.12 L255.88,351.58 L255.96,351.77 M257.67,355.82 L257.87,356.28 L258.06,356.74 L258.26,357.20 L258.45,357.66 L258.65,358.12 L258.84,358.58 L259.04,359.04 L259.24,359.50 L259.43,359.96 L259.63,360.42 L259.83,360.88 L260.02,361.34 L260.22,361.80 L260.42,362.26 L260.61,362.72 L260.81,363.18 L261.00,363.62 L261.21,364.11 L261.40,364.54 L261.48,364.73" fill="none" stroke="#d62728" stroke-width="2.65" stroke-linejoin="round" stroke-linecap="butt" clip-path="url(#cl)"/>
<path d="M86.70,11.00 L86.83,11.45 L86.98,11.96 L87.12,12.41 L87.27,12.92 L87.41,13.39 L87.55,13.87 L87.69,14.35 L87.84,14.83 L87.98,15.31 L88.04,15.50 M89.29,19.72 L89.43,20.20 L89.57,20.68 L89.71,21.16 L89.86,21.64 L90.00,22.12 L90.14,22.60 L90.28,23.08 L90.42,23.56 L90.57,24.04 L90.71,24.52 L90.85,25.00 L90.99,25.48 L91.13,25.95 L91.28,26.43 L91.42,26.91 L91.56,27.39 L91.71,27.87 L91.85,28.35 L92.00,28.83 L92.08,29.12 M93.37,33.32 L93.52,33.80 L93.66,34.28 L93.81,34.75 L93.95,35.23 L94.09,35.72 L94.22,36.20 L94.35,36.68 L94.47,37.17 L94.59,37.65 L94.70,38.14 L94.81,38.62 L94.91,39.11 L95.01,39.60 L95.10,40.09 L95.20,40.58 L95.29,41.07 L95.39,41.56 L95.48,42.05 L95.58,42.54 L95.65,42.84 M96.96,47.12 L97.15,47.59 L97.33,48.05 L97.51,48.51 L97.70,48.98 L97.88,49.44 L98.07,49.91 L98.26,50.37 L98.45,50.83 L98.64,51.30 L98.83,51.76 L99.03,52.22 L99.23,52.68 L99.43,53.14 L99.63,53.59 L99.83,54.05 L100.03,54.51 L100.23,54.97 L100.44,55.42 L100.64,55.88 L100.77,56.15 M102.80,60.05 L103.05,60.48 L103.30,60.91 L103.55,61.35 L103.80,61.78 L104.05,62.22 L104.30,62.65 L104.55,63.09 L104.79,63.52 L105.04,63.96 L105.29,64.39 L105.54,64.82 L105.78,65.26 L106.04,65.69 L106.30,66.11 L106.58,66.52 L106.87,66.92 L107.17,67.31 L107.48,67.69 L107.81,68.07 L108.01,68.29 M111.28,71.20 L111.68,71.50 L112.08,71.80 L112.49,72.09 L112.90,72.37 L113.31,72.66 L113.72,72.94 L114.13,73.23 L114.55,73.51 L114.96,73.79 L115.38,74.06 L115.79,74.33 L116.21,74.61 L116.63,74.88 L117.05,75.14 L117.47,75.41 L117.90,75.67 L118.32,75.94 L118.74,76.20 L119.17,76.46 L119.42,76.62 M123.18,78.90 L123.61,79.16 L124.04,79.42 L124.46,79.68 L124.89,79.94 L125.31,80.21 L125.73,80.47 L126.16,80.73 L126.58,81.00 L127.00,81.27 L127.42,81.53 L127.83,81.80 L128.25,82.07 L128.67,82.33 L129.08,82.60 L129.49,82.87 L129.90,83.14 L130.31,83.41 L130.73,83.68 L131.14,83.95 L131.47,84.17 M135.05,86.61 L135.45,86.90 L135.85,87.18 L136.24,87.47 L136.64,87.76 L137.03,88.06 L137.42,88.35 L137.81,88.65 L138.19,88.95 L138.60,89.27 L139.01,89.59 L139.41,89.91 L139.81,90.24 L140.20,90.58 L140.59,90.92 L140.98,91.26 L141.36,91.61 L141.74,91.96 L142.11,92.32 L142.45,92.67 L142.66,92.88 M145.61,96.07 L145.94,96.45 L146.26,96.83 L146.60,97.23 L146.95,97.64 L147.28,98.06 L147.61,98.47 L147.93,98.89 L148.24,99.31 L148.57,99.75 L148.89,100.19 L149.21,100.64 L149.52,101.10 L149.82,101.54 L150.11,101.99 L150.41,102.46 L150.70,102.93 L151.00,103.40 L151.29,103.88 L151.55,104.33 L151.71,104.61 M153.91,108.60 L154.15,109.04 L154.38,109.48 L154.61,109.90 L154.83,110.32 L155.06,110.74 L155.29,111.16 L155.52,111.58 L155.75,112.01 L156.00,112.47 L156.26,112.93 L156.51,113.41 L156.77,113.89 L157.02,114.37 L157.27,114.86 L157.51,115.34 L157.76,115.83 L158.00,116.32 L158.23,116.80 L158.45,117.25 L158.58,117.52 M160.54,121.46 L160.77,121.91 L160.99,122.36 L161.22,122.80 L161.45,123.25 L161.67,123.70 L161.90,124.14 L162.12,124.59 L162.34,125.04 L162.57,125.49 L162.79,125.94 L163.01,126.39 L163.23,126.84 L163.45,127.29 L163.68,127.74 L163.90,128.20 L164.12,128.65 L164.34,129.10 L164.56,129.55 L164.78,130.01 L164.87,130.19 M166.80,134.15 L167.02,134.60 L167.23,135.05 L167.45,135.51 L167.67,135.96 L167.88,136.41 L168.10,136.86 L168.31,137.31 L168.52,137.77 L168.74,138.22 L168.95,138.67 L169.16,139.12 L169.38,139.58 L169.59,140.03 L169.80,140.48 L170.02,140.94 L170.23,141.39 L170.44,141.84 L170.65,142.30 L170.86,142.75 L170.95,142.93 M172.81,146.92 L173.02,147.38 L173.23,147.83 L173.44,148.28 L173.65,148.74 L173.86,149.19 L174.08,149.65 L174.29,150.10 L174.50,150.55 L174.71,151.01 L174.92,151.46 L175.13,151.91 L175.34,152.37 L175.56,152.82 L175.77,153.27 L175.98,153.73 L176.19,154.18 L176.40,154.63 L176.61,155.09 L176.82,155.54 L176.90,155.72 M178.72,159.73 L178.93,160.19 L179.13,160.65 L179.32,161.10 L179.52,161.56 L179.72,162.02 L179.91,162.48 L180.10,162.95 L180.29,163.41 L180.48,163.87 L180.67,164.33 L180.85,164.80 L181.04,165.26 L181.22,165.73 L181.40,166.19 L181.58,166.66 L181.77,167.13 L181.95,167.59 L182.13,168.06 L182.31,168.52 L182.39,168.71 M183.99,172.81 L184.17,173.27 L184.36,173.74 L184.54,174.20 L184.72,174.67 L184.90,175.13 L185.08,175.60 L185.27,176.06 L185.45,176.53 L185.63,177.00 L185.81,177.46 L185.99,177.93 L186.17,178.39 L186.35,178.86 L186.53,179.33 L186.71,179.79 L186.89,180.26 L187.07,180.73 L187.25,181.19 L187.43,181.66 L187.50,181.85 M189.08,185.97 L189.26,186.44 L189.44,186.91 L189.62,187.38 L189.80,187.85 L189.98,188.32 L190.16,188.79 L190.34,189.27 L190.52,189.74 L190.69,190.20 L190.87,190.67 L191.05,191.14 L191.23,191.60 L191.41,192.07 L191.59,192.54 L191.76,193.00 L191.95,193.47 L192.13,193.94 L192.31,194.40 L192.49,194.87 L192.57,195.05 M194.23,199.12 L194.42,199.59 L194.61,200.05 L194.80,200.51 L194.99,200.97 L195.18,201.44 L195.37,201.90 L195.56,202.36 L195.75,202.82 L195.93,203.28 L196.12,203.74 L196.31,204.20 L196.50,204.66 L196.69,205.12 L196.87,205.57 L197.06,206.03 L197.25,206.49 L197.44,206.95 L197.63,207.41 L197.82,207.87 L197.89,208.05 M199.56,212.12 L199.75,212.59 L199.93,213.05 L200.12,213.51 L200.30,213.98 L200.49,214.44 L200.67,214.91 L200.85,215.37 L201.03,215.84 L201.21,216.31 L201.39,216.77 L201.57,217.24 L201.75,217.71 L201.92,218.18 L202.10,218.64 L202.28,219.11 L202.46,219.58 L202.64,220.05 L202.81,220.51 L202.99,220.98 L203.06,221.17 M204.63,225.28 L204.81,225.75 L204.98,226.21 L205.16,226.68 L205.34,227.15 L205.52,227.61 L205.69,228.08 L205.87,228.55 L206.05,229.02 L206.23,229.48 L206.41,229.95 L206.58,230.42 L206.76,230.89 L206.94,231.35 L207.12,231.82 L207.29,232.29 L207.47,232.76 L207.65,233.22 L207.83,233.69 L208.01,234.16 L208.08,234.34 M209.64,238.46 L209.82,238.92 L210.00,239.39 L210.17,239.86 L210.35,240.33 L210.53,240.79 L210.71,241.26 L210.88,241.73 L211.06,242.20 L211.24,242.66 L211.42,243.13 L211.60,243.60 L211.77,244.06 L211.95,244.53 L212.13,245.00 L212.31,245.47 L212.48,245.93 L212.66,246.40 L212.84,246.87 L213.02,247.34 L213.09,247.52 M214.66,251.63 L214.84,252.10 L215.02,252.57 L215.20,253.03 L215.38,253.50 L215.57,253.96 L215.75,254.43 L215.93,254.89 L216.11,255.36 L216.29,255.82 L216.48,256.29 L216.66,256.76 L216.84,257.22 L217.02,257.69 L217.20,258.15 L217.39,258.62 L217.57,259.08 L217.75,259.55 L217.93,260.02 L218.11,260.48 L218.22,260.76 M219.79,264.76 L219.97,265.23 L220.16,265.69 L220.34,266.16 L220.53,266.62 L220.72,267.09 L220.90,267.55 L221.09,268.01 L221.28,268.47 L221.48,268.94 L221.67,269.39 L221.87,269.86 L222.06,270.31 L222.26,270.78 L222.45,271.23 L222.65,271.69 L222.84,272.15 L223.04,272.61 L223.23,273.07 L223.43,273.53 L223.55,273.81 M225.23,277.76 L225.43,278.22 L225.63,278.67 L225.83,279.13 L226.04,279.58 L226.24,280.03 L226.45,280.48 L226.66,280.92 L226.87,281.37 L227.09,281.82 L227.30,282.26 L227.52,282.71 L227.73,283.15 L227.95,283.60 L228.16,284.05 L228.38,284.50 L228.60,284.95 L228.81,285.40 L229.03,285.84 L229.25,286.29 L229.37,286.55 M231.23,290.49 L231.44,290.95 L231.64,291.41 L231.84,291.86 L232.04,292.32 L232.24,292.78 L232.44,293.24 L232.63,293.70 L232.83,294.15 L233.03,294.61 L233.22,295.07 L233.41,295.53 L233.60,295.99 L233.79,296.46 L233.97,296.92 L234.16,297.38 L234.34,297.85 L234.52,298.31 L234.70,298.78 L234.88,299.25 L234.95,299.43 M236.54,303.54 L236.72,304.00 L236.90,304.47 L237.08,304.93 L237.26,305.40 L237.45,305.87 L237.63,306.33 L237.81,306.80 L237.99,307.26 L238.17,307.73 L238.35,308.20 L238.53,308.66 L238.72,309.13 L238.90,309.59 L239.08,310.06 L239.26,310.52 L239.45,310.99 L239.63,311.46 L239.81,311.92 L239.99,312.39 L240.07,312.57 M241.68,316.67 L241.86,317.13 L242.05,317.60 L242.23,318.06 L242.42,318.53 L242.60,318.99 L242.78,319.46 L242.97,319.92 L243.15,320.38 L243.34,320.85 L243.52,321.31 L243.71,321.78 L243.89,322.24 L244.08,322.71 L244.26,323.17 L244.45,323.64 L244.63,324.10 L244.82,324.56 L245.00,325.03 L245.19,325.49 L245.26,325.68 M246.91,329.76 L247.09,330.22 L247.28,330.69 L247.47,331.15 L247.66,331.62 L247.84,332.08 L248.03,332.54 L248.22,333.01 L248.41,333.47 L248.60,333.93 L248.78,334.40 L248.97,334.86 L249.16,335.32 L249.35,335.78 L249.54,336.25 L249.73,336.71 L249.92,337.17 L250.11,337.64 L250.29,338.10 L250.48,338.56 L250.56,338.75 M252.23,342.82 L252.43,343.28 L252.62,343.74 L252.81,344.20 L253.00,344.66 L253.19,345.13 L253.38,345.59 L253.57,346.05 L253.77,346.51 L253.96,346.97 L254.15,347.43 L254.34,347.90 L254.53,348.36 L254.73,348.82 L254.92,349.28 L255.11,349.74 L255.31,350.20 L255.50,350.66 L255.69,351.12 L255.89,351.59 L255.96,351.77 M257.67,355.82 L257.87,356.28 L258.06,356.74 L258.26,357.21 L258.45,357.67 L258.65,358.13 L258.85,358.59 L259.04,359.05 L259.24,359.51 L259.43,359.97 L259.63,360.42 L259.83,360.88 L260.02,361.34 L260.22,361.80 L260.42,362.26 L260.62,362.72 L260.81,363.18 L261.01,363.63 L261.21,364.11 L261.40,364.55 L261.48,364.73" fill="none" stroke="#9467bd" stroke-width="2.65" stroke-linejoin="round" stroke-linecap="butt" clip-path="url(#cl)"/>
<polyline points="261.8,365.5 259.9,361.0 257.7,356.0 255.6,351.0 253.6,346.0 251.5,341.0 249.4,336.0 247.4,331.0 245.4,326.0 243.4,321.0 241.4,316.0 239.4,311.0 237.5,306.0 235.6,301.0 233.6,296.0 230.8,290.0 225.1,280.0 219.5,268.0 213.0,252.0 206.0,234.0 198.6,215.0 190.0,195.5 184.0,180.0 177.6,164.0 171.0,150.0 165.0,137.0 159.5,125.5 155.0,116.5 151.0,109.0 148.5,104.3 146.0,100.0 143.0,95.8 140.0,92.3 136.0,88.5 132.0,85.3 128.0,82.3 124.0,79.6 120.1,77.1 118.2,75.9 116.5,74.8 113.9,73.1 110.4,70.6 107.0,67.4 104.5,63.0 101.4,57.6 98.7,51.5 96.0,44.7 94.5,37.0 91.8,28.2 89.4,20.1 86.7,11.0" fill="none" stroke="#8c564b" stroke-width="2.65" stroke-linejoin="round" stroke-linecap="butt" stroke-dasharray="9.91,4.32" stroke-dashoffset="-0.75" clip-path="url(#cl)"/>
<polyline points="464.5,365.5 464.0,355.6 461.8,335.3 459.5,315.0 457.0,292.1 455.8,285.4 454.3,278.7 452.9,265.2 451.3,258.0 449.1,244.9 446.9,237.1 445.3,229.2 443.9,223.1 442.4,216.9 440.1,210.1 437.6,202.6 435.3,196.1 432.9,189.5 430.2,182.8 427.1,176.3 423.9,170.2 420.5,163.9 416.7,158.1 412.7,152.0 408.4,146.5 403.7,141.1 398.5,136.4 393.1,131.7 388.2,127.0 382.8,121.8 377.6,117.1 371.2,114.4 364.6,111.9 357.6,108.9 351.6,105.9 345.7,102.6 339.5,95.9 345.5,93.1 351.3,89.4 357.3,88.4 365.5,87.6 372.5,87.0 379.5,85.9 386.5,85.3 393.7,84.5 400.5,83.6 407.7,82.7 414.7,82.0 421.7,81.3 428.8,80.7 435.9,79.9 442.7,79.1 449.8,78.5 456.0,78.3 464.0,77.3 470.9,76.0 478.1,75.1 484.8,73.7 491.1,70.1 495.2,65.6 492.0,60.0 492.0,11.0" fill="none" stroke="#000000" stroke-width="2.65" stroke-linejoin="round" stroke-linecap="butt" stroke-dasharray="2.666,4.447" clip-path="url(#cr)"/>
<polyline points="490.6,365.5 490.6,360.0 490.7,347.0 490.8,333.0 490.8,318.0 490.5,305.0 490.0,290.0 489.0,275.0 488.0,260.0 486.8,230.5 485.9,194.4 485.1,179.8 484.8,171.4 484.2,165.8 483.7,156.8 482.1,151.6 477.1,144.9 473.1,140.4 468.7,133.7 465.3,128.6 460.8,121.3 459.1,115.7 459.7,107.8 462.5,102.9 469.0,96.6 465.2,95.2 456.6,91.8 451.7,91.4 447.0,89.6 452.0,88.3 458.0,86.5 466.0,83.8 480.0,80.1 486.0,78.8 498.0,77.0 501.3,74.6 497.4,61.0 492.0,53.5 492.0,11.0" fill="none" stroke="#ff7f0e" stroke-width="2.65" stroke-linejoin="round" stroke-linecap="butt" stroke-dasharray="9.91,4.32" stroke-dashoffset="-0.75" clip-path="url(#cr)"/>
<polyline points="491.4,365.5 491.2,360.0 491.0,347.0 490.8,333.0 490.3,318.0 489.3,305.0 488.6,290.0 487.5,275.0 486.0,260.0 484.8,230.5 483.7,194.4 482.5,179.8 482.0,171.4 481.4,165.8 480.8,156.8 478.8,151.6 474.3,144.9 470.3,140.4 465.3,133.7 461.9,128.6 457.4,121.9 455.2,116.8 454.6,108.9 457.1,103.8 464.2,96.6 463.4,95.2 454.4,92.5 449.9,91.6 441.5,88.6 445.0,88.2 452.0,87.4 466.0,83.5 480.0,79.7 486.0,78.3 497.0,76.6 499.5,72.0 497.4,61.0 492.0,53.5 492.0,11.0" fill="none" stroke="#2ca02c" stroke-width="2.65" stroke-linejoin="round" stroke-linecap="butt" stroke-dasharray="9.91,4.32" stroke-dashoffset="-0.75" clip-path="url(#cr)"/>
<polyline points="491.9,365.5 491.6,360.0 491.0,347.0 490.5,333.0 489.3,318.0 487.5,305.0 486.3,290.0 485.0,275.0 483.6,258.8 482.4,230.5 480.8,194.4 479.2,180.4 477.5,165.8 476.3,157.4 474.8,152.2 470.3,144.9 466.4,141.0 460.8,134.8 458.0,130.3 452.4,123.0 450.1,117.9 447.9,109.5 450.3,104.7 455.3,97.0 451.5,95.0 443.6,92.0 434.5,89.4 440.0,88.6 450.0,86.7 466.0,82.2 480.0,79.2 486.0,77.8 496.0,76.0 498.3,70.5 497.4,61.0 492.0,53.5 492.0,11.0" fill="none" stroke="#d62728" stroke-width="2.65" stroke-linejoin="round" stroke-linecap="butt" stroke-dasharray="9.91,4.32" stroke-dashoffset="-0.75" clip-path="url(#cr)"/>
<polyline points="493.9,365.5 493.4,360.0 492.0,347.0 490.0,333.0 487.7,318.0 485.5,305.0 483.7,290.0 482.3,275.0 480.3,266.9 478.3,250.7 476.3,220.3 474.1,195.0 472.4,181.0 470.7,166.9 469.5,160.0 467.9,153.4 465.0,149.5 460.0,144.5 454.3,139.1 448.9,133.7 444.2,128.3 439.5,121.6 435.4,113.5 434.8,106.7 438.9,101.0 445.0,97.5 433.5,92.3 426.0,88.8 434.5,87.3 443.0,86.0 451.5,84.2 466.0,81.2 480.0,78.3 486.0,77.0 495.0,75.5 497.4,69.5 497.4,61.0 492.0,53.5 492.0,11.0" fill="none" stroke="#9467bd" stroke-width="2.65" stroke-linejoin="round" stroke-linecap="butt" stroke-dasharray="9.91,4.32" stroke-dashoffset="-0.75" clip-path="url(#cr)"/>
<polyline points="497.0,365.5 495.0,355.0 492.0,343.0 489.0,330.0 486.5,318.0 484.7,308.0 483.0,300.0 480.5,291.0 478.0,282.0 475.3,273.4 471.2,258.8 468.2,246.6 465.2,226.4 463.3,205.3 461.2,195.8 459.2,187.8 457.2,178.5 454.5,171.6 451.8,163.5 449.1,156.7 446.2,149.4 443.5,144.5 438.1,140.4 429.4,133.7 420.6,127.0 412.5,120.2 405.1,110.8 403.3,104.7 406.0,101.5 413.0,97.3 404.4,89.8 408.0,88.3 417.0,87.1 428.0,85.3 436.0,83.8 445.0,82.6 452.0,81.3 466.0,79.2 480.0,77.2 486.0,76.2 494.0,75.0 497.4,69.5 497.4,61.0 492.0,53.5 492.0,11.0" fill="none" stroke="#8c564b" stroke-width="2.65" stroke-linejoin="round" stroke-linecap="butt" stroke-dasharray="9.91,4.32" stroke-dashoffset="-0.75" clip-path="url(#cr)"/>
<rect x="62.50" y="12.30" width="216.30" height="353.20" fill="none" stroke="#000" stroke-width="1.05"/>
<line x1="62.5" y1="365.5" x2="62.5" y2="370.1" stroke="#000" stroke-width="1.05"/>
<line x1="116.5" y1="365.5" x2="116.5" y2="370.1" stroke="#000" stroke-width="1.05"/>
<line x1="170.8" y1="365.5" x2="170.8" y2="370.1" stroke="#000" stroke-width="1.05"/>
<line x1="225.0" y1="365.5" x2="225.0" y2="370.1" stroke="#000" stroke-width="1.05"/>
<line x1="278.8" y1="365.5" x2="278.8" y2="370.1" stroke="#000" stroke-width="1.05"/>
<line x1="57.9" y1="365.5" x2="62.5" y2="365.5" stroke="#000" stroke-width="1.05"/>
<line x1="57.9" y1="294.2" x2="62.5" y2="294.2" stroke="#000" stroke-width="1.05"/>
<line x1="57.9" y1="223.9" x2="62.5" y2="223.9" stroke="#000" stroke-width="1.05"/>
<line x1="57.9" y1="153.4" x2="62.5" y2="153.4" stroke="#000" stroke-width="1.05"/>
<line x1="57.9" y1="82.5" x2="62.5" y2="82.5" stroke="#000" stroke-width="1.05"/>
<line x1="57.9" y1="12.3" x2="62.5" y2="12.3" stroke="#000" stroke-width="1.05"/>
<rect x="323.00" y="12.30" width="216.50" height="353.20" fill="none" stroke="#000" stroke-width="1.05"/>
<line x1="347.1" y1="365.5" x2="347.1" y2="370.1" stroke="#000" stroke-width="1.05"/>
<line x1="395.2" y1="365.5" x2="395.2" y2="370.1" stroke="#000" stroke-width="1.05"/>
<line x1="443.4" y1="365.5" x2="443.4" y2="370.1" stroke="#000" stroke-width="1.05"/>
<line x1="491.4" y1="365.5" x2="491.4" y2="370.1" stroke="#000" stroke-width="1.05"/>
<line x1="539.5" y1="365.5" x2="539.5" y2="370.1" stroke="#000" stroke-width="1.05"/>
<line x1="318.4" y1="365.5" x2="323.0" y2="365.5" stroke="#000" stroke-width="1.05"/>
<line x1="318.4" y1="294.2" x2="323.0" y2="294.2" stroke="#000" stroke-width="1.05"/>
<line x1="318.4" y1="223.9" x2="323.0" y2="223.9" stroke="#000" stroke-width="1.05"/>
<line x1="318.4" y1="153.4" x2="323.0" y2="153.4" stroke="#000" stroke-width="1.05"/>
<line x1="318.4" y1="82.5" x2="323.0" y2="82.5" stroke="#000" stroke-width="1.05"/>
<line x1="318.4" y1="12.3" x2="323.0" y2="12.3" stroke="#000" stroke-width="1.05"/>
<text x="52.0" y="370.4" font-size="14.00" text-anchor="end" textLength="20.0" lengthAdjust="spacingAndGlyphs">0.0</text>
<text x="52.0" y="299.1" font-size="14.00" text-anchor="end" textLength="20.0" lengthAdjust="spacingAndGlyphs">0.5</text>
<text x="52.0" y="228.8" font-size="14.00" text-anchor="end" textLength="20.0" lengthAdjust="spacingAndGlyphs">1.0</text>
<text x="52.0" y="158.3" font-size="14.00" text-anchor="end" textLength="20.0" lengthAdjust="spacingAndGlyphs">1.5</text>
<text x="52.0" y="87.4" font-size="14.00" text-anchor="end" textLength="20.0" lengthAdjust="spacingAndGlyphs">2.0</text>
<text x="52.0" y="17.2" font-size="14.00" text-anchor="end" textLength="20.0" lengthAdjust="spacingAndGlyphs">2.5</text>
<text x="312.5" y="370.4" font-size="14.00" text-anchor="end" textLength="20.0" lengthAdjust="spacingAndGlyphs">0.0</text>
<text x="312.5" y="299.1" font-size="14.00" text-anchor="end" textLength="20.0" lengthAdjust="spacingAndGlyphs">0.5</text>
<text x="312.5" y="228.8" font-size="14.00" text-anchor="end" textLength="20.0" lengthAdjust="spacingAndGlyphs">1.0</text>
<text x="312.5" y="158.3" font-size="14.00" text-anchor="end" textLength="20.0" lengthAdjust="spacingAndGlyphs">1.5</text>
<text x="312.5" y="87.4" font-size="14.00" text-anchor="end" textLength="20.0" lengthAdjust="spacingAndGlyphs">2.0</text>
<text x="312.5" y="17.2" font-size="14.00" text-anchor="end" textLength="20.0" lengthAdjust="spacingAndGlyphs">2.5</text>
<text x="62.1" y="383.6" font-size="14.00" text-anchor="middle" textLength="25.2" lengthAdjust="spacingAndGlyphs">200</text>
<text x="116.1" y="383.6" font-size="14.00" text-anchor="middle" textLength="25.2" lengthAdjust="spacingAndGlyphs">250</text>
<text x="170.4" y="383.6" font-size="14.00" text-anchor="middle" textLength="25.2" lengthAdjust="spacingAndGlyphs">300</text>
<text x="224.6" y="383.6" font-size="14.00" text-anchor="middle" textLength="25.2" lengthAdjust="spacingAndGlyphs">350</text>
<text x="278.4" y="383.6" font-size="14.00" text-anchor="middle" textLength="25.2" lengthAdjust="spacingAndGlyphs">400</text>
<text x="346.5" y="383.6" font-size="14.00" text-anchor="middle" textLength="19.2" lengthAdjust="spacingAndGlyphs">−6</text>
<text x="394.6" y="383.6" font-size="14.00" text-anchor="middle" textLength="19.2" lengthAdjust="spacingAndGlyphs">−4</text>
<text x="442.8" y="383.6" font-size="14.00" text-anchor="middle" textLength="19.2" lengthAdjust="spacingAndGlyphs">−2</text>
<text x="491.4" y="383.6" font-size="14.00" text-anchor="middle" textLength="8.4" lengthAdjust="spacingAndGlyphs">0</text>
<text x="539.5" y="383.6" font-size="14.00" text-anchor="middle" textLength="8.4" lengthAdjust="spacingAndGlyphs">2</text>
<text x="170.6" y="402.9" font-size="14.00" text-anchor="middle" textLength="133.9" lengthAdjust="spacingAndGlyphs">Refractivity (N-unit)</text>
<text x="430.2" y="402.9" font-size="14.00" text-anchor="middle" textLength="177.9" lengthAdjust="spacingAndGlyphs">Refractivity difference (%)</text>
<text x="0" y="0" font-size="14.00" text-anchor="middle" textLength="80" lengthAdjust="spacingAndGlyphs" transform="translate(21.8,188.6) rotate(-90)">Height (km)</text>
<rect x="69.1" y="213.2" width="97.7" height="145.1" rx="3" ry="3" fill="#fff" fill-opacity="0.8" stroke="#cccccc" stroke-opacity="0.8" stroke-width="1"/>
<line x1="75.0" y1="224.9" x2="100.5" y2="224.9" stroke="#1f77b4" stroke-width="2.65" stroke-linecap="square"/>
<text x="110.7" y="228.2" font-size="14.00" text-anchor="start" textLength="36.7" lengthAdjust="spacingAndGlyphs">Truth</text>
<line x1="75.0" y1="245.0" x2="100.5" y2="245.0" stroke="#000000" stroke-width="2.65" stroke-dasharray="2.65,4.37"/>
<text x="110.8" y="248.3" font-size="14.00" text-anchor="start" textLength="29.5" lengthAdjust="spacingAndGlyphs">Abel</text>
<line x1="75.0" y1="265.0" x2="100.5" y2="265.0" stroke="#ff7f0e" stroke-width="2.65" stroke-dasharray="9.8,4.24"/>
<text x="111.9" y="268.3" font-size="14.00" text-anchor="start" textLength="50.6" lengthAdjust="spacingAndGlyphs">0.24km</text>
<line x1="75.0" y1="285.1" x2="100.5" y2="285.1" stroke="#2ca02c" stroke-width="2.65" stroke-dasharray="9.8,4.24"/>
<text x="111.9" y="288.4" font-size="14.00" text-anchor="start" textLength="50.6" lengthAdjust="spacingAndGlyphs">0.36km</text>
<line x1="75.0" y1="305.1" x2="100.5" y2="305.1" stroke="#d62728" stroke-width="2.65" stroke-dasharray="9.8,4.24"/>
<text x="111.9" y="308.4" font-size="14.00" text-anchor="start" textLength="50.6" lengthAdjust="spacingAndGlyphs">0.48km</text>
<line x1="75.0" y1="325.2" x2="100.5" y2="325.2" stroke="#9467bd" stroke-width="2.65" stroke-dasharray="9.8,4.24"/>
<text x="111.9" y="328.5" font-size="14.00" text-anchor="start" textLength="42.2" lengthAdjust="spacingAndGlyphs">0.6km</text>
<line x1="75.0" y1="345.3" x2="100.5" y2="345.3" stroke="#8c564b" stroke-width="2.65" stroke-dasharray="9.8,4.24"/>
<text x="111.9" y="348.6" font-size="14.00" text-anchor="start" textLength="50.6" lengthAdjust="spacingAndGlyphs">0.72km</text>
<rect x="328.5" y="233.5" width="99.0" height="124.7" rx="3" ry="3" fill="#fff" fill-opacity="0.8" stroke="#cccccc" stroke-opacity="0.8" stroke-width="1"/>
<line x1="334.4" y1="244.9" x2="359.9" y2="244.9" stroke="#000000" stroke-width="2.65" stroke-dasharray="2.65,4.37"/>
<text x="371.2" y="248.2" font-size="14.00" text-anchor="start" textLength="29.5" lengthAdjust="spacingAndGlyphs">Abel</text>
<line x1="334.4" y1="265.0" x2="359.9" y2="265.0" stroke="#ff7f0e" stroke-width="2.65" stroke-dasharray="9.8,4.24"/>
<text x="372.3" y="268.3" font-size="14.00" text-anchor="start" textLength="50.6" lengthAdjust="spacingAndGlyphs">0.24km</text>
<line x1="334.4" y1="285.1" x2="359.9" y2="285.1" stroke="#2ca02c" stroke-width="2.65" stroke-dasharray="9.8,4.24"/>
<text x="372.3" y="288.4" font-size="14.00" text-anchor="start" textLength="50.6" lengthAdjust="spacingAndGlyphs">0.36km</text>
<line x1="334.4" y1="305.1" x2="359.9" y2="305.1" stroke="#d62728" stroke-width="2.65" stroke-dasharray="9.8,4.24"/>
<text x="372.3" y="308.4" font-size="14.00" text-anchor="start" textLength="50.6" lengthAdjust="spacingAndGlyphs">0.48km</text>
<line x1="334.4" y1="325.2" x2="359.9" y2="325.2" stroke="#9467bd" stroke-width="2.65" stroke-dasharray="9.8,4.24"/>
<text x="372.3" y="328.5" font-size="14.00" text-anchor="start" textLength="42.2" lengthAdjust="spacingAndGlyphs">0.6km</text>
<line x1="334.4" y1="345.2" x2="359.9" y2="345.2" stroke="#8c564b" stroke-width="2.65" stroke-dasharray="9.8,4.24"/>
<text x="372.3" y="348.6" font-size="14.00" text-anchor="start" textLength="50.6" lengthAdjust="spacingAndGlyphs">0.72km</text>
<text x="278.9" y="436.6" font-family="'Liberation Serif', serif" font-size="18" text-anchor="middle">(<tspan font-weight="bold">b</tspan>)</text>
</svg></body></html>
